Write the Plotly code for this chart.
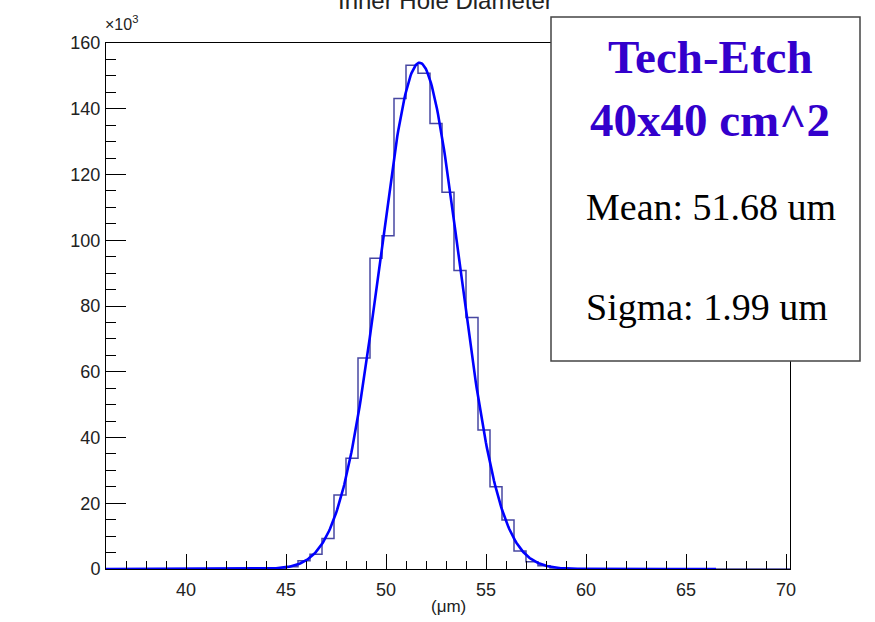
import numpy as np
import plotly.graph_objects as go

# ---- data (counts in units of 10^3) ----
bin_width = 0.6
hist_start = 36.0
hist_end = 70.2
nonzero_start = 45.0
nonzero_counts = [0.7, 2.5, 4.5, 9.3, 22.5, 33.7, 64.2, 94.5, 101.4, 143.1, 153.2,
                  150.8, 135.5, 114.6, 90.8, 76.5, 42.3, 25.0, 14.9, 5.5, 2.2, 1.0, 0.3]

fit_amplitude = 154.0
fit_mean = 51.68
fit_sigma = 1.99
fit_range = [36.0, 66.5]

x_tickvals = [40, 45, 50, 55, 60, 65, 70]
y_tickvals = [0, 20, 40, 60, 80, 100, 120, 140, 160]

title_text = "Inner Hole Diameter"
x_title = "(μm)"
box_lines = ["Tech-Etch", "40x40 cm^2", "Mean: 51.68 um", "Sigma: 1.99 um"]

# ---- build histogram arrays ----
n_bins = int(round((hist_end - hist_start) / bin_width))
edges = hist_start + bin_width * np.arange(n_bins + 1)
counts = np.zeros(n_bins)
i0 = int(round((nonzero_start - hist_start) / bin_width))
counts[i0:i0 + len(nonzero_counts)] = nonzero_counts

hx = list(edges)
hy = list(counts) + [counts[-1]]

fx = np.linspace(fit_range[0], fit_range[1], 600)
fy = fit_amplitude * np.exp(-0.5 * ((fx - fit_mean) / fit_sigma) ** 2)

# ---- geometry ----
W, H = 875, 622
L, R, T, B = 106, 790, 43, 569
pw, ph = R - L, B - T

def px(x):
    return (x - L) / pw

def py(y):
    return (B - y) / ph

fig = go.Figure()
fig.add_trace(go.Scatter(x=hx, y=hy, mode="lines", line=dict(shape="hv", color="rgba(10,10,130,0.75)", width=1.5),
                         hoverinfo="skip", showlegend=False))
fig.add_trace(go.Scatter(x=fx, y=fy, mode="lines", line=dict(color="#0000ff", width=2.6),
                         hoverinfo="skip", showlegend=False))

axis_font = dict(family="Liberation Sans, Arial, sans-serif", size=18, color="#222")

fig.update_layout(
    width=W, height=H,
    margin=dict(l=L, r=W - R, t=T, b=H - B, pad=0),
    paper_bgcolor="white", plot_bgcolor="white",
    showlegend=False,
    xaxis=dict(range=[hist_start, hist_end], tickvals=x_tickvals, ticks="inside", ticklen=15,
               tickwidth=1, tickcolor="black", showline=True, linecolor="black", linewidth=1,
               mirror=True, showgrid=False, zeroline=False, tickfont=axis_font,
               ticklabelstandoff=4,
               minor=dict(ticks="inside", dtick=1, tick0=0, ticklen=8, tickwidth=1, tickcolor="black", showgrid=False)),
    yaxis=dict(range=[0, 160], tickvals=y_tickvals, ticks="inside", ticklen=20,
               tickwidth=1, tickcolor="black", showline=True, linecolor="black", linewidth=1,
               mirror=True, showgrid=False, zeroline=False, tickfont=axis_font,
               ticklabelstandoff=1,
               minor=dict(ticks="inside", dtick=5, tick0=0, ticklen=10, tickwidth=1, tickcolor="black", showgrid=False)),
)

# stats box
fig.add_shape(type="rect", xref="paper", yref="paper",
              x0=px(551), x1=px(860), y0=py(361), y1=py(17),
              fillcolor="white", line=dict(color="#444", width=1.5), layer="above")

serif = "Liberation Serif, Times New Roman, serif"
cx = px(710)
fig.add_annotation(text="<b>%s</b>" % box_lines[0], xref="paper", yref="paper", x=cx, y=py(57),
                   xanchor="center", yanchor="middle", showarrow=False,
                   font=dict(family=serif, size=47, color="#3300cc"))
fig.add_annotation(text="<b>%s</b>" % box_lines[1], xref="paper", yref="paper", x=cx, y=py(120),
                   xanchor="center", yanchor="middle", showarrow=False,
                   font=dict(family=serif, size=47, color="#3300cc"))
fig.add_annotation(text=box_lines[2], xref="paper", yref="paper", x=px(711), y=py(207),
                   xanchor="center", yanchor="middle", showarrow=False,
                   font=dict(family=serif, size=38, color="black"))
fig.add_annotation(text=box_lines[3], xref="paper", yref="paper", x=px(707), y=py(307),
                   xanchor="center", yanchor="middle", showarrow=False,
                   font=dict(family=serif, size=38, color="black"))

# title (partly cut off at top, as in the reference)
fig.add_annotation(text=title_text, xref="paper", yref="paper", x=px(445), y=py(0.5),
                   xanchor="center", yanchor="middle", showarrow=False,
                   font=dict(family="Liberation Sans, Arial, sans-serif", size=24, color="#222"))

# x10^3 multiplier
fig.add_annotation(text="×10<sup>3</sup>", xref="paper", yref="paper", x=px(103), y=py(23),
                   xanchor="left", yanchor="middle", showarrow=False,
                   font=dict(family="Liberation Sans, Arial, sans-serif", size=16, color="#222"))

# x axis title
fig.add_annotation(text=x_title, xref="paper", yref="paper", x=px(448), y=py(606),
                   xanchor="center", yanchor="middle", showarrow=False,
                   font=dict(family="Liberation Sans, Arial, sans-serif", size=17, color="#222"))

fig.write_html("out.html", config={"displayModeBar": False},
               post_script="document.body.style.margin='0';document.body.style.overflow='hidden';")
